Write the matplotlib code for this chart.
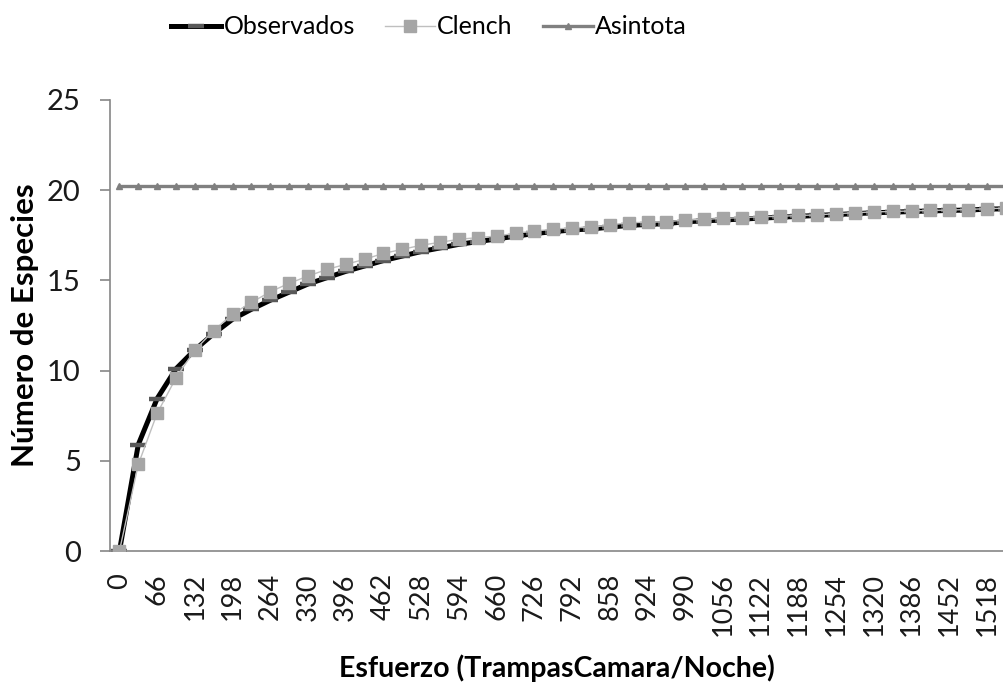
import matplotlib
matplotlib.use("Agg")
import matplotlib.pyplot as plt

# Categorias del eje X (esfuerzo acumulado)
esfuerzo = [0, 33, 66, 99, 132, 165, 198, 231, 264, 297, 330, 363, 396, 429, 462, 495,
            528, 561, 594, 627, 660, 693, 726, 759, 792, 825, 858, 891, 924, 957, 990,
            1023, 1056, 1089, 1122, 1155, 1188, 1221, 1254, 1287, 1320, 1353, 1386,
            1419, 1452, 1485, 1518, 1551]

observados = [0.0, 5.9, 8.45, 10.1, 11.15, 12.05, 12.85, 13.4, 13.9, 14.35, 14.8,
              15.15, 15.5, 15.8, 16.1, 16.35, 16.6, 16.8, 17.0, 17.15, 17.3, 17.45,
              17.6, 17.7, 17.8, 17.85, 17.95, 18.05, 18.1, 18.15, 18.25, 18.3, 18.35,
              18.4, 18.45, 18.5, 18.55, 18.6, 18.65, 18.7, 18.75, 18.78, 18.82, 18.85,
              18.88, 18.9, 18.95, 18.97]

clench = [0.0, 4.8, 7.63, 9.6, 11.14, 12.22, 13.14, 13.78, 14.37, 14.84, 15.24,
          15.61, 15.89, 16.17, 16.5, 16.72, 16.95, 17.11, 17.28, 17.37, 17.46, 17.61,
          17.74, 17.83, 17.92, 17.94, 18.07, 18.2, 18.22, 18.25, 18.35, 18.38, 18.44,
          18.48, 18.53, 18.55, 18.6, 18.63, 18.7, 18.75, 18.8, 18.82, 18.85, 18.88,
          18.9, 18.93, 18.98, 19.0]

asintota_valor = 20.25
asintota = [asintota_valor] * len(esfuerzo)

plt.rcParams['font.family'] = ['Lato', 'DejaVu Sans']

fig = plt.figure(figsize=(10.04, 6.95), dpi=100)
ax = fig.add_axes([110 / 1004, 1 - 551 / 695, 1 - 110 / 1004, (551 - 100) / 695])

pos = list(range(len(esfuerzo)))

# Observados : trait noir epais + tirets gris fonce
ax.plot(pos, observados, color="black", lw=3.6, marker="_", markersize=11,
        markeredgewidth=3.2, markeredgecolor="#595959", label="Observados", zorder=2)
# Clench : trait gris clair + carres
ax.plot(pos, clench, color="#BFBFBF", lw=1.0, marker="s", markersize=8.5,
        markerfacecolor="#A6A6A6", markeredgecolor="#A6A6A6", label="Clench", zorder=3)
# Asintota
ax.plot(pos, asintota, color="#808080", lw=2.4, marker="^", markersize=5,
        markerfacecolor="#7F7F7F", markeredgecolor="#7F7F7F", label="Asintota", zorder=4)

ax.set_xlim(-0.5, 46.9)
ax.set_ylim(0, 25)
ax.set_yticks([0, 5, 10, 15, 20, 25])

ax.set_xticks(pos[::2])
ax.set_xticklabels([str(v) for v in esfuerzo[::2]], rotation=90, va="top", ha="center")

for side in ["top", "right"]:
    ax.spines[side].set_visible(False)
for side in ["left", "bottom"]:
    ax.spines[side].set_color("#868686")
    ax.spines[side].set_linewidth(1.2)

ax.tick_params(axis="y", length=7, width=1.2, color="#868686", pad=14,
               labelsize=21, labelcolor="#1a1a1a")
ax.tick_params(axis="x", length=0, pad=16, labelsize=19.5, labelcolor="#1a1a1a")

ax.set_ylabel("Número de Especies", fontsize=22.5, fontweight="bold", va="center")
ax.yaxis.set_label_coords((25 - 110) / 894, 0.5)
ax.set_xlabel("Esfuerzo (TrampasCamara/Noche)", fontsize=20.5, fontweight="bold",
              va="center")
ax.xaxis.set_label_coords(0.5, (551 - 668) / 451)

ax.legend(loc="center", bbox_to_anchor=(429 / 1004, 1 - 27 / 695),
          bbox_transform=fig.transFigure, ncol=3, frameon=False, fontsize=18,
          handlelength=2.0, handletextpad=0.1, columnspacing=1.2)

fig.savefig("out.png", dpi=100)
